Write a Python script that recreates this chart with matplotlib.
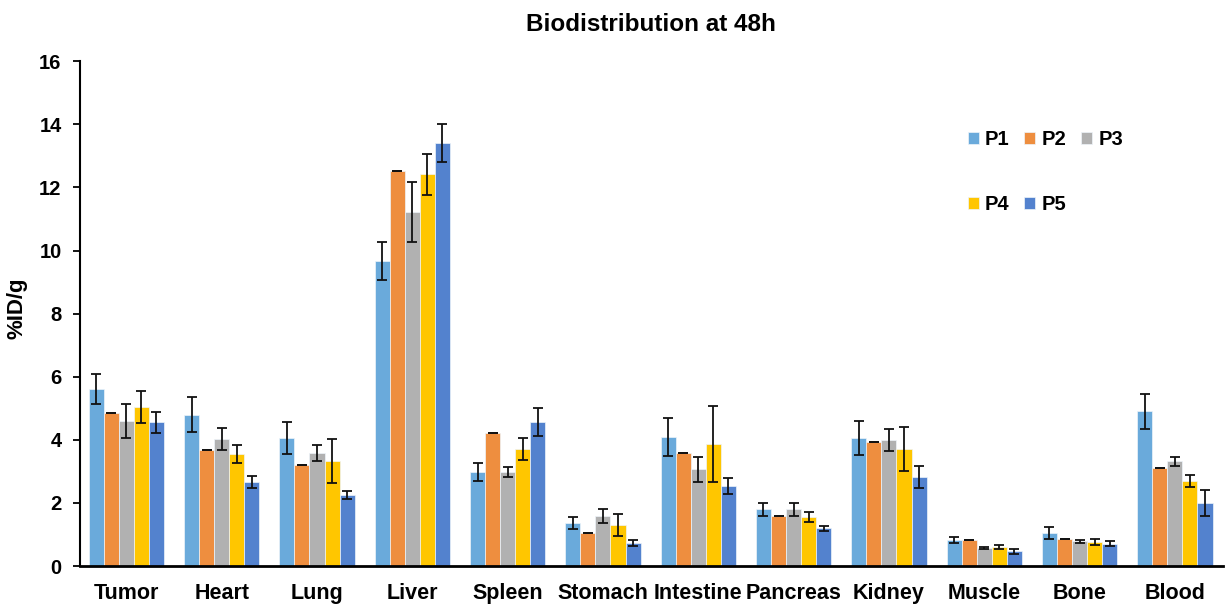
import matplotlib.pyplot as plt
import numpy as np

plt.rcParams['font.family'] = ['Liberation Sans', 'DejaVu Sans']

organs = ['Tumor', 'Heart', 'Lung', 'Liver', 'Spleen', 'Stomach', 'Intestine',
          'Pancreas', 'Kidney', 'Muscle', 'Bone', 'Blood']
series = ['P1', 'P2', 'P3', 'P4', 'P5']

p1 = [5.60, 4.80, 4.06, 9.66, 2.98, 1.36, 4.10, 1.80, 4.06, 0.82, 1.05, 4.90]
p2 = [4.85, 3.68, 3.20, 12.52, 4.21, 1.04, 3.58, 1.58, 3.93, 0.82, 0.86, 3.10]
p3 = [4.60, 4.02, 3.58, 11.22, 2.98, 1.58, 3.07, 1.80, 4.00, 0.57, 0.79, 3.32]
p4 = [5.04, 3.55, 3.33, 12.42, 3.71, 1.30, 3.87, 1.55, 3.71, 0.60, 0.76, 2.69]
p5 = [4.56, 2.66, 2.25, 13.40, 4.56, 0.73, 2.54, 1.20, 2.82, 0.47, 0.71, 2.00]

e1 = [0.48, 0.55, 0.50, 0.60, 0.30, 0.20, 0.60, 0.20, 0.53, 0.10, 0.18, 0.55]
e2 = [0.00, 0.00, 0.00, 0.00, 0.00, 0.00, 0.00, 0.00, 0.00, 0.00, 0.00, 0.00]
e3 = [0.55, 0.35, 0.25, 0.95, 0.15, 0.22, 0.40, 0.20, 0.35, 0.03, 0.05, 0.15]
e4 = [0.50, 0.27, 0.70, 0.65, 0.35, 0.35, 1.20, 0.15, 0.70, 0.05, 0.10, 0.20]
e5 = [0.33, 0.20, 0.12, 0.60, 0.45, 0.10, 0.25, 0.08, 0.35, 0.08, 0.07, 0.40]

values = [p1, p2, p3, p4, p5]
errors = [e1, e2, e3, e4, e5]
colors = ['#6AAADB', '#EE8E3F', '#B1B1B1', '#FFC600', '#5382CE']

fig = plt.figure(figsize=(12.25, 6.06), dpi=100)
ax = fig.add_axes([0.065, 0.066, 0.933, 0.833])

x = np.arange(len(organs))
w = 0.158
bars = []
for i, (vals, errs) in enumerate(zip(values, errors)):
    b = ax.bar(x + (i - 2) * w, vals, w, color=colors[i], label=series[i],
               edgecolor='#EEF4FA', linewidth=0.5,
               yerr=errs, capsize=3.5,
               error_kw=dict(ecolor='#111111', elinewidth=1.3, capthick=1.3))
    bars.append(b)

ax.set_xlim(-0.49, 11.5)
ax.set_ylim(0, 16)
ax.set_yticks(range(0, 17, 2))
ax.set_xticks(x)
ax.set_xticklabels(organs, fontsize=15.5, fontweight='bold')
ax.tick_params(axis='x', length=0, pad=12)
ax.tick_params(axis='y', direction='out', length=5, width=1.3, labelsize=14.5, pad=8)
for lab in ax.get_yticklabels():
    lab.set_fontweight('bold')
ax.set_ylabel('%ID/g', fontsize=16, fontweight='bold')
ax.yaxis.set_label_coords(-0.0455, 0.51)
ax.spines['top'].set_visible(False)
ax.spines['right'].set_visible(False)
ax.spines['left'].set_linewidth(1.5)
ax.spines['bottom'].set_linewidth(2)

ax.set_title('Biodistribution at 48h', fontsize=17.5, fontweight='bold', pad=22)

# legend row-wise: P1 P2 P3 / P4 P5
order = [0, 3, 1, 4, 2]
ax.legend([bars[k] for k in order], [series[k] for k in order],
          ncol=3, loc='upper left', bbox_to_anchor=(0.761, 0.90),
          frameon=False, handlelength=0.55, handleheight=0.55,
          handletextpad=0.3, columnspacing=0.75, labelspacing=2.3,
          prop={'weight': 'bold', 'size': 14.5})

fig.savefig('out.png', dpi=100)
